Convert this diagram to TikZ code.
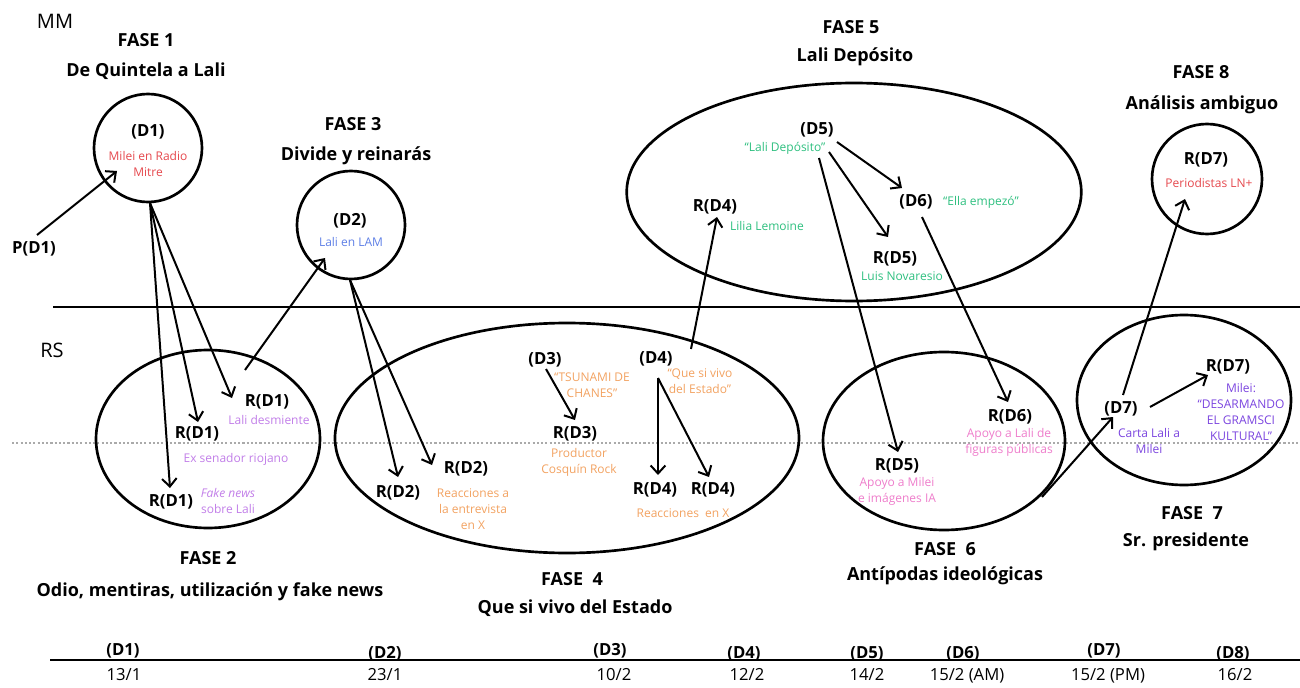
\documentclass[tikz,border=0pt]{standalone}
\usepackage{fontspec}
\setmainfont{Open Sans}
\usetikzlibrary{arrows.meta,shapes.geometric}
\definecolor{cred}{HTML}{E5484D}
\definecolor{cblue}{HTML}{5E7FE6}
\definecolor{clilac}{HTML}{C17EE8}
\definecolor{corange}{HTML}{F2A261}
\definecolor{cgreen}{HTML}{2EBF7F}
\definecolor{cpink}{HTML}{EE7DCB}
\definecolor{cpurple}{HTML}{7B45DF}
\definecolor{cdots}{HTML}{AAAAAA}
\begin{document}
\begin{tikzpicture}[x=0.75pt,y=-0.75pt,
  lbl/.style={font=\bfseries\fontsize{12.5}{15}\selectfont, inner sep=0pt, anchor=base},
  ttl/.style={font=\bfseries\fontsize{13.5}{16}\selectfont, inner sep=0pt, anchor=base},
  note/.style={font=\fontsize{9}{12}\selectfont, inner sep=0pt, anchor=base, align=center},
  side/.style={font=\fontsize{15}{18}\selectfont, inner sep=0pt, anchor=base},
  datelbl/.style={font=\fontsize{12.5}{15}\selectfont, inner sep=0pt, anchor=base},
  arr/.style={line width=1.5pt, -{Straight Barb[length=6pt,width=11pt]}},
  phase/.style={draw, line width=2pt, ellipse, inner sep=0pt},
  ring/.style={draw, line width=2pt, circle, inner sep=0pt},
]
\useasboundingbox (0,0) rectangle (1300,688);

% separators
\draw[line width=1.1pt] (53,307) -- (1300,307);
\draw[cdots, line width=1.6pt, dash pattern=on 1.6pt off 1.6pt] (12,443) -- (1300,443);
\draw[line width=1.6pt] (50,660) -- (1300,660);

\node[side] (mm) at (55,29) {MM};
\node[side] (rs) at (52,357) {RS};

% containers
\node[ring, minimum size=81pt] (c1) at (148,148) {};
\node[ring, minimum size=81pt] (c2) at (351,225) {};
\node[ring, minimum size=82.5pt] (c8) at (1207,179) {};
\node[phase, minimum width=168pt, minimum height=133.5pt] (f2) at (208,439) {};
\node[phase, minimum width=348pt, minimum height=172.5pt] (f4) at (567,438) {};
\node[phase, minimum width=341pt, minimum height=163.5pt] (f5) at (854,192) {};
\node[phase, minimum width=181.5pt, minimum height=133.5pt] (f6) at (944,441) {};
\node[phase, minimum width=160.5pt, minimum height=127.5pt] (f7) at (1184,400) {};

% phase titles
\node[ttl] (t1a) at (146,47) {FASE 1};
\node[ttl] (t1b) at (146,77) {De Quintela a Lali};
\node[ttl] (t2a) at (208,564) {FASE 2};
\node[ttl] (t2b) at (210,596) {Odio, mentiras, utilización y fake news};
\node[ttl] (t3a) at (353,131) {FASE 3};
\node[ttl] (t3b) at (356,161) {Divide y reinarás};
\node[ttl] (t4a) at (572,585) {FASE\ \ 4};
\node[ttl] (t4b) at (575,613) {Que si vivo del Estado};
\node[ttl] (t5a) at (851,34) {FASE 5};
\node[ttl] (t5b) at (855,62) {Lali Depósito};
\node[ttl] (t6a) at (945,555) {FASE\ \ 6};
\node[ttl] (t6b) at (945,580) {Antípodas ideológicas};
\node[ttl] (t7a) at (1192,519) {FASE\ \ 7};
\node[ttl] (t7b) at (1186,546) {Sr. presidente};
\node[ttl] (t8a) at (1201,79) {FASE 8};
\node[ttl] (t8b) at (1202,110) {Análisis ambiguo};

% fase 1
\node[lbl] (d1) at (148,137) {(D1)};
\node[note, text=cred] (d1n) at (148,177) {Milei en Radio\\Mitre};
\node[lbl] (pd1) at (34,253) {P(D1)};
% fase 2
\node[lbl] (rd1a) at (267,406) {R(D1)};
\node[note, text=clilac] (rd1an) at (269,424) {Lali desmiente};
\node[lbl] (rd1b) at (197,438) {R(D1)};
\node[note, text=clilac] (rd1bn) at (236,462) {Ex senador riojano};
\node[lbl] (rd1c) at (171,506) {R(D1)};
\node[note, text=clilac] (rd1cn) at (228,513) {\itshape Fake news\\sobre Lali};
% fase 3
\node[lbl] (d2) at (350,225) {(D2)};
\node[note, text=cblue] (d2n) at (351,247) {Lali en LAM};
% fase 4
\node[lbl] (rd2a) at (398,497) {R(D2)};
\node[lbl] (rd2b) at (466,473) {R(D2)};
\node[note, text=corange] (rd2n) at (473,529) {Reacciones a\\la entrevista\\en X};
\node[lbl] (d3) at (545,364) {(D3)};
\node[note, text=corange] (d3n) at (592,397) {“TSUNAMI DE\\CHANES”};
\node[lbl] (rd3) at (575,438) {R(D3)};
\node[note, text=corange] (rd3n) at (579,473) {Productor\\Cosquín Rock};
\node[lbl] (d4) at (656,363) {(D4)};
\node[note, text=corange] (d4n) at (700,393) {“Que si vivo\\del Estado”};
\node[lbl] (rd4a) at (655,494) {R(D4)};
\node[lbl] (rd4b) at (713,494) {R(D4)};
\node[note, text=corange] (rd4n) at (683,517) {Reacciones\ \ en X};
% fase 5
\node[lbl] (d5) at (817,135) {(D5)};
\node[note, text=cgreen] (d5n) at (785,152) {“Lali Depósito”};
\node[lbl] (d6) at (916,207) {(D6)};
\node[note, text=cgreen] (d6n) at (981,205) {“Ella empezó”};
\node[lbl] (rd4c) at (715,212) {R(D4)};
\node[note, text=cgreen] (rd4cn) at (767,231) {Lilia Lemoine};
\node[lbl] (rd5a) at (895,263) {R(D5)};
\node[note, text=cgreen] (rd5an) at (902,281) {Luis Novaresio};
% fase 6
\node[lbl] (rd6) at (1010,421) {R(D6)};
\node[note, text=cpink] (rd6n) at (1009,453) {Apoyo a Lali de\\figuras públicas};
\node[lbl] (rd5b) at (897,470) {R(D5)};
\node[note, text=cpink] (rd5bn) at (897,502) {Apoyo a Milei\\e imágenes IA};
% fase 7
\node[lbl] (d7) at (1121,413) {(D7)};
\node[note, text=cpurple] (d7n) at (1149,453) {Carta Lali a\\Milei};
\node[lbl] (rd7a) at (1228,371) {R(D7)};
\node[note, text=cpurple] (rd7an) at (1241,440) {Milei:\\“DESARMANDO\\EL GRAMSCI\\KULTURAL”};
% fase 8
\node[lbl] (rd7b) at (1206,165) {R(D7)};
\node[note, text=cred] (rd7bn) at (1209,188) {Periodistas LN+};

% arrow end points
\coordinate (a1s) at (37,235);   \coordinate (a1e) at (117,171);
\coordinate (a2s) at (150,203);
\coordinate (a2e) at (170,488);  \coordinate (a3e) at (198,422);  \coordinate (a4e) at (232,398);
\coordinate (a5s) at (245,370);  \coordinate (a5e) at (325,258);
\coordinate (a6s) at (350,280);
\coordinate (a6e) at (398,477);  \coordinate (a7e) at (432,465);
\coordinate (a8s) at (546,369);  \coordinate (a8e) at (575,420);
\coordinate (a9s) at (658,378);
\coordinate (a9e) at (658,475);  \coordinate (a10e) at (709,477);
\coordinate (a11s) at (691,349); \coordinate (a11e) at (717,217);
\coordinate (a12s) at (837,142); \coordinate (a12e) at (902,188);
\coordinate (a13s) at (829,152); \coordinate (a13e) at (888,237);
\coordinate (a14s) at (819,158); \coordinate (a14e) at (898,452);
\coordinate (a15s) at (922,217); \coordinate (a15e) at (1008,402);
\coordinate (a16s) at (1042,497); \coordinate (a16e) at (1113,417);
\coordinate (a17s) at (1150,407); \coordinate (a17e) at (1208,375);
\coordinate (a18s) at (1123,395); \coordinate (a18e) at (1185,199);

\draw[arr] (a1s) -- (a1e);
\draw[arr] (a2s) -- (a2e);
\draw[arr] (a2s) -- (a3e);
\draw[arr] (a2s) -- (a4e);
\draw[arr] (a5s) -- (a5e);
\draw[arr] (a6s) -- (a6e);
\draw[arr] (a6s) -- (a7e);
\draw[arr] (a8s) -- (a8e);
\draw[arr] (a9s) -- (a9e);
\draw[arr] (a9s) -- (a10e);
\draw[arr] (a11s) -- (a11e);
\draw[arr] (a12s) -- (a12e);
\draw[arr] (a13s) -- (a13e);
\draw[arr] (a14s) -- (a14e);
\draw[arr] (a15s) -- (a15e);
\draw[arr] (a16s) -- (a16e);
\draw[arr] (a17s) -- (a17e);
\draw[arr] (a18s) -- (a18e);

% timeline
\node[lbl] (td1) at (123,655) {(D1)};
\node[lbl] (td2) at (385,658) {(D2)};
\node[lbl] (td3) at (610,655) {(D3)};
\node[lbl] (td4) at (744,658) {(D4)};
\node[lbl] (td5) at (867,658) {(D5)};
\node[lbl] (td6) at (963,658) {(D6)};
\node[lbl] (td7) at (1104,655) {(D7)};
\node[lbl] (td8) at (1233,658) {(D8)};
\node[datelbl] (dt1) at (124,680) {13/1};
\node[datelbl] (dt2) at (385,680) {23/1};
\node[datelbl] (dt3) at (614,680) {10/2};
\node[datelbl] (dt4) at (747,680) {12/2};
\node[datelbl] (dt5) at (867,680) {14/2};
\node[datelbl] (dt6) at (967,680) {15/2 (AM)};
\node[datelbl] (dt7) at (1108,680) {15/2 (PM)};
\node[datelbl] (dt8) at (1235,680) {16/2};
\end{tikzpicture}
\end{document}
